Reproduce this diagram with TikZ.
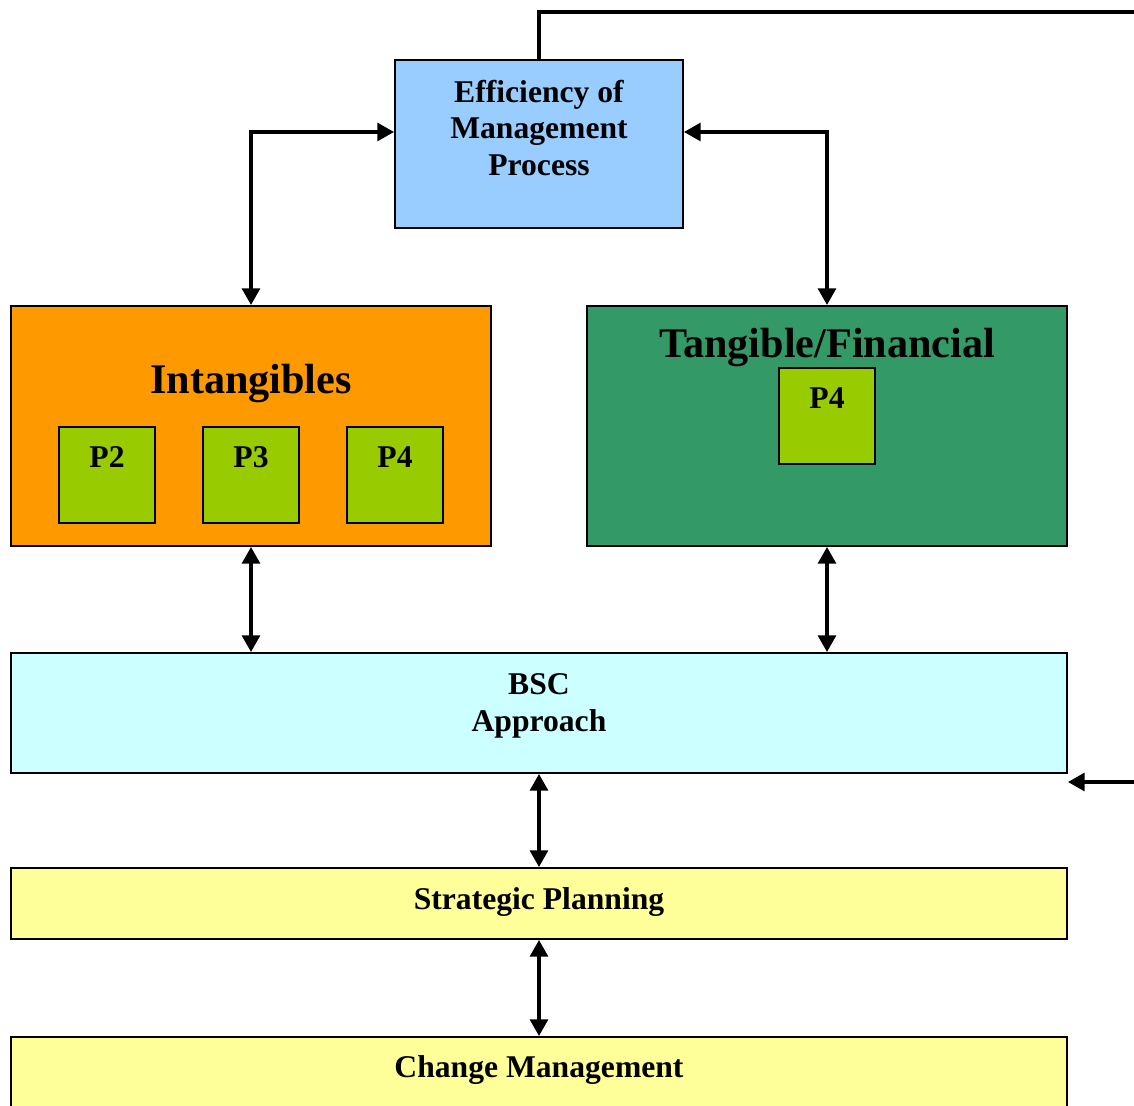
\documentclass[tikz,border=0pt]{standalone}
\usepackage{fontspec}
\setmainfont{Liberation Serif}
\usetikzlibrary{arrows.meta}

\definecolor{effblue}{HTML}{99CCFF}
\definecolor{intorange}{HTML}{FF9900}
\definecolor{pgreen}{HTML}{99CC00}
\definecolor{tangreen}{HTML}{339966}
\definecolor{bsccyan}{HTML}{CCFFFF}
\definecolor{planyellow}{HTML}{FFFF99}

\tikzstyle{block} = [rectangle, draw=black, line width=1pt, inner sep=0pt]
\tikzstyle{groupblock} = [block, minimum width=9.6cm, minimum height=4.8cm]
\tikzstyle{pblock} = [block, fill=pgreen, minimum width=1.92cm, minimum height=1.92cm]
\tikzstyle{wideblock} = [block, minimum width=21.12cm]
\tikzstyle{txt} = [align=center, font=\fontsize{18}{21}\selectfont\bfseries]
\tikzstyle{bigtxt} = [align=center, font=\fontsize{24}{28}\selectfont\bfseries]
\tikzstyle{arrow} = [line width=2.2pt, ->, >={Triangle[length=9.5pt,width=10pt]}]
\tikzstyle{doublearrow} = [line width=2.2pt, <->, >={Triangle[length=9.5pt,width=10pt]}]

\begin{document}
\begin{tikzpicture}
    \useasboundingbox (-5.02,-13.6) rectangle (17.66,8.52);
    % Intangibles and tangible blocks
    \node (int) [groupblock, fill=intorange] {};
    \node (tan) [groupblock, fill=tangreen, right of=int, xshift=10.52cm] {};
    % Efficiency block
    \node (eff) [block, fill=effblue, minimum width=5.76cm, minimum height=3.36cm,
      above of=int, yshift=4.64cm, xshift=5.76cm] {};
    % P blocks
    \node (P3) [pblock, below of=int, yshift=0.02cm] {};
    \node (P2) [pblock, left of=P3, xshift=-1.88cm] {};
    \node (P4) [pblock, right of=P3, xshift=1.88cm] {};
    \node (tP4) [pblock, above of=tan, yshift=-0.8cm] {};
    % BSC, planning and change blocks
    \node (bsc) [wideblock, fill=bsccyan, minimum height=2.4cm,
      below of=int, yshift=-4.74cm, xshift=5.76cm] {};
    \node (sp) [wideblock, fill=planyellow, minimum height=1.42cm,
      below of=bsc, yshift=-2.81cm] {};
    \node (cm) [wideblock, fill=planyellow, minimum height=2.4cm,
      below of=sp, yshift=-2.87cm] {};
    % Texts
    \node (effT) [txt] at ([yshift=0.32cm]eff.center) {Efficiency of\\Management\\Process};
    \node (intT) [bigtxt] at ([yshift=0.84cm]int.center) {Intangibles};
    \node (tanT) [bigtxt] at ([yshift=1.56cm]tan.center) {Tangible/Financial};
    \node (P2T) [txt] at ([yshift=0.36cm]P2.center) {P2};
    \node (P3T) [txt] at ([yshift=0.36cm]P3.center) {P3};
    \node (P4T) [txt] at ([yshift=0.36cm]P4.center) {P4};
    \node (tP4T) [txt] at ([yshift=0.36cm]tP4.center) {P4};
    \node (bscT) [txt] at ([yshift=0.15cm]bsc.center) {BSC\\Approach};
    \node (spT) [txt] at ([yshift=0.02cm]sp.center) {Strategic Planning};
    \node (cmT) [txt] at ([yshift=0.53cm]cm.center) {Change Management};
    % Connections
    \coordinate (topR) at (17.8,8.28);
    \coordinate (sideR) at (17.8,-7.12);
    \draw [line width=2.2pt] (eff.north) |- (topR);
    \draw [doublearrow] (int.north) |- ([yshift=0.24cm]eff.west);
    \draw [doublearrow] ([yshift=0.24cm]eff.east) -| (tan.north);
    \draw [doublearrow] (int.south) -- (int.south |- bsc.north);
    \draw [doublearrow] (tan.south) -- (tan.south |- bsc.north);
    \draw [doublearrow] (bsc.south) -- (sp.north);
    \draw [doublearrow] (sp.south) -- (cm.north);
    \draw [arrow] (sideR) -- (sideR -| bsc.east);
\end{tikzpicture}
\end{document}
